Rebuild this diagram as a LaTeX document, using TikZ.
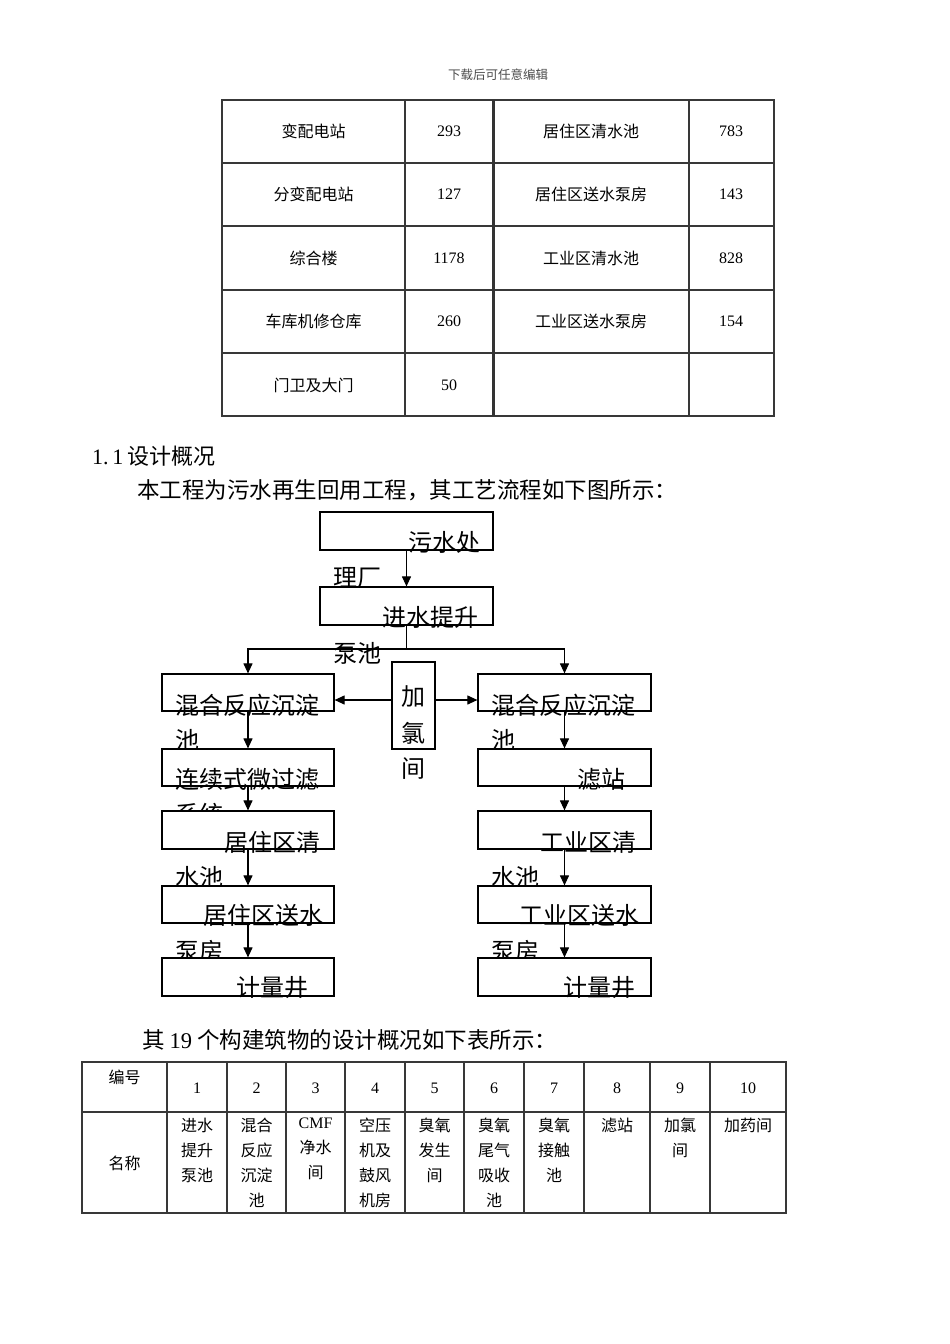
\documentclass[tikz,border=0pt]{standalone}
\usepackage{fontspec}
\setmainfont{Liberation Serif}
\newfontfamily\cjk{Noto Sans CJK SC}
\usetikzlibrary{arrows.meta}
\tikzset{
 tl/.style={line width=1.3pt,draw=black!78},
 fbx/.style={draw=black,line width=1.2pt,fill=white,inner sep=0pt,minimum width=172pt,minimum height=37pt},
 ft/.style={font=\cjk\fontsize{24pt}{24pt}\selectfont,inner sep=0pt,anchor=west},
 fc/.style={font=\cjk\fontsize{24pt}{24pt}\selectfont,inner sep=0pt},
 tcj/.style={font=\cjk\fontsize{16pt}{16pt}\selectfont,inner sep=0pt},
 tcol/.style={font=\cjk\fontsize{16pt}{25pt}\selectfont,inner sep=0pt,align=center,anchor=north},
 tnum/.style={font=\fontsize{16pt}{16pt}\selectfont,inner sep=0pt},
 arr/.style={-{Triangle[length=10pt,width=9pt]},line width=1.1pt},
 ln/.style={line width=1.1pt}
}
\begin{document}
\begin{tikzpicture}[x=1pt,y=-1pt]
\fill[white] (0,0) rectangle (950,1344);
\useasboundingbox (0,0) rectangle (950,1344);

% header
\node[font=\cjk\fontsize{12.5pt}{12.5pt}\selectfont,text=black!70,inner sep=0pt] (hdr) at (498,75) {下载后可任意编辑};

% top table
\draw[tl] (222,100) rectangle (774,416);
\foreach \yy in {163,226,290,353} \draw[tl] (222,\yy) -- (774,\yy);
\foreach \xx in {405,689} \draw[tl] (\xx,100) -- (\xx,416);
\draw[line width=2.6pt,draw=black!80] (493.5,100) -- (493.5,416);

\node[tcj] (a11) at (313.5,131) {变配电站};
\node[tnum] (a12) at (449,131) {293};
\node[tcj] (a13) at (591,131) {居住区清水池};
\node[tnum] (a14) at (731,131) {783};
\node[tcj] (a21) at (313.5,194.5) {分变配电站};
\node[tnum] (a22) at (449,194.5) {127};
\node[tcj] (a23) at (591,194.5) {居住区送水泵房};
\node[tnum] (a24) at (731,194.5) {143};
\node[tcj] (a31) at (313.5,258) {综合楼};
\node[tnum] (a32) at (449,258) {1178};
\node[tcj] (a33) at (591,258) {工业区清水池};
\node[tnum] (a34) at (731,258) {828};
\node[tcj] (a41) at (313.5,321.5) {车库机修仓库};
\node[tnum] (a42) at (449,321.5) {260};
\node[tcj] (a43) at (591,321.5) {工业区送水泵房};
\node[tnum] (a44) at (731,321.5) {154};
\node[tcj] (a51) at (313.5,385) {门卫及大门};
\node[tnum] (a52) at (449,385) {50};

% headings
\node[anchor=base west,inner sep=0pt,font=\fontsize{22pt}{22pt}\selectfont] (sec) at (92,464) {1.\,1\,{\cjk 设计概况}};
\node[anchor=west,inner sep=0pt,font=\cjk\fontsize{22.5pt}{22.5pt}\selectfont] (intro) at (137,490) {本工程为污水再生回用工程，其工艺流程如下图所示：};

% flowchart
\node[fbx,minimum width=173pt,minimum height=38pt] (b1) at (406.5,531) {};
\node[ft] (t1a) at (408,542) {污水处};
\node[ft] (t1b) at (333,578) {理厂};
\node[fbx,minimum width=173pt,minimum height=38pt] (b2) at (406.5,606) {};
\node[ft] (t2a) at (382,617) {进水提升};
\node[ft] (t2b) at (333,653) {泵池};

\node[fbx] (l3) at (248,692.5) {};
\node[ft] (tl3a) at (175,705) {混合反应沉淀};
\node[ft] (tl3b) at (175,740) {池};
\node[fbx] (l4) at (248,767.5) {};
\node[ft] (tl4a) at (175,779) {连续式微过滤};
\node[ft] (tl4b) at (175,814) {系统};
\node[fbx,minimum height=38pt] (l5) at (248,830) {};
\node[ft] (tl5a) at (224,842) {居住区清};
\node[ft] (tl5b) at (175,877) {水池};
\node[fbx] (l6) at (248,904.5) {};
\node[ft] (tl6a) at (203,915) {居住区送水};
\node[ft] (tl6b) at (175,951) {泵房};
\node[fbx,minimum height=38pt] (l7) at (248,977) {};
\node[ft] (tl7a) at (236,988) {计量井};

\node[fbx,minimum width=173pt] (r3) at (564.5,692.5) {};
\node[ft] (tr3a) at (491,705) {混合反应沉淀};
\node[ft] (tr3b) at (491,740) {池};
\node[fbx,minimum width=173pt] (r4) at (564.5,767.5) {};
\node[ft] (tr4a) at (577,779) {滤站};
\node[fbx,minimum width=173pt,minimum height=38pt] (r5) at (564.5,830) {};
\node[ft] (tr5a) at (540,842) {工业区清};
\node[ft] (tr5b) at (491,877) {水池};
\node[fbx,minimum width=173pt] (r6) at (564.5,904.5) {};
\node[ft] (tr6a) at (519,915) {工业区送水};
\node[ft] (tr6b) at (491,951) {泵房};
\node[fbx,minimum width=173pt,minimum height=38pt] (r7) at (564.5,977) {};
\node[ft] (tr7a) at (563,988) {计量井};

\node[fbx,minimum width=43pt,minimum height=87pt] (cl) at (413.5,705.5) {};
\node[fc] (c1) at (413.5,697) {加};
\node[fc] (c2) at (413.5,733) {氯};
\node[fc] (c3) at (413.5,769) {间};

\coordinate (sp) at (406.5,649);
\draw[arr] (b1) -- (b2);
\draw[ln] (b2.south) -- (sp);
\draw[arr] (sp) -| (l3.north);
\draw[arr] (sp) -| (r3.north);
\draw[arr] ([yshift=5.5pt]cl.west) -- ([yshift=5.5pt]cl.west -| l3.east);
\draw[arr] ([yshift=5.5pt]cl.east) -- ([yshift=5.5pt]cl.east -| r3.west);
\draw[arr] (l3) -- (l4);
\draw[arr] (l4) -- (l5);
\draw[arr] (l5) -- (l6);
\draw[arr] (l6) -- (l7);
\draw[arr] (r3) -- (r4);
\draw[arr] (r4) -- (r5);
\draw[arr] (r5) -- (r6);
\draw[arr] (r6) -- (r7);

% second heading
\node[anchor=base west,inner sep=0pt,font=\cjk\fontsize{22.5pt}{22.5pt}\selectfont] (intro2) at (142,1048.5) {其 {\rmfamily 19} 个构建筑物的设计概况如下表所示：};

% bottom table
\draw[tl] (82,1062) rectangle (786,1213);
\draw[tl] (82,1112) -- (786,1112);
\foreach \xx in {167,227,286,345,405,464,524,584,650,710} \draw[tl] (\xx,1062) -- (\xx,1213);

\node[tcj] (h0) at (124.5,1077) {编号};
\node[tnum] (h1) at (197,1088) {1};
\node[tnum] (h2) at (256.5,1088) {2};
\node[tnum] (h3) at (315.5,1088) {3};
\node[tnum] (h4) at (375,1088) {4};
\node[tnum] (h5) at (434.5,1088) {5};
\node[tnum] (h6) at (494,1088) {6};
\node[tnum] (h7) at (554,1088) {7};
\node[tnum] (h8) at (617,1088) {8};
\node[tnum] (h9) at (680,1088) {9};
\node[tnum] (h10) at (748,1088) {10};

\node[tcj] (n0) at (124.5,1163) {名称};
\node[tcol] (n1) at (197,1118) {进水\\提升\\泵池};
\node[tcol] (n2) at (256.5,1118) {混合\\反应\\沉淀\\池};
\node[tcol] (n3) at (315.5,1118) {{\rmfamily CMF}\\净水\\间};
\node[tcol] (n4) at (375,1118) {空压\\机及\\鼓风\\机房};
\node[tcol] (n5) at (434.5,1118) {臭氧\\发生\\间};
\node[tcol] (n6) at (494,1118) {臭氧\\尾气\\吸收\\池};
\node[tcol] (n7) at (554,1118) {臭氧\\接触\\池};
\node[tcol] (n8) at (617,1118) {滤站};
\node[tcol] (n9) at (680,1118) {加氯\\间};
\node[tcol] (n10) at (748,1118) {加药间};
\end{tikzpicture}
\end{document}
